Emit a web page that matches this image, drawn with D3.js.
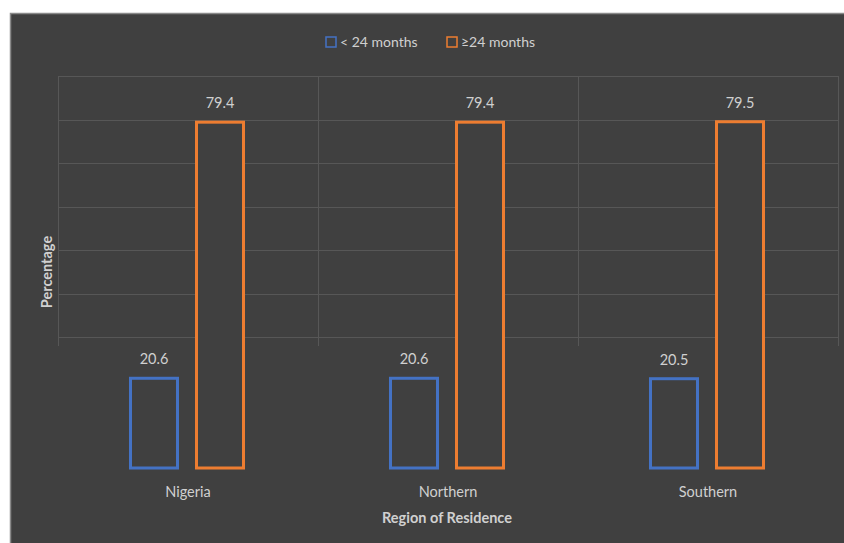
<!DOCTYPE html>
<html>
<head>
<meta charset="utf-8">
<script src="https://cdn.jsdelivr.net/npm/d3@7"></script>
<style>
body{margin:0;background:#fff}
text{font-family:Lato,"Open Sans",sans-serif}
</style>
</head>
<body>
<svg></svg>
<script>
var regions = ["Nigeria", "Northern", "Southern"]
var seriesNames = ["< 24 months", "\u226524 months"]
var under24 = [20.6, 20.6, 20.5]
var over24 = [79.4, 79.4, 79.5]
var gridTicks = [30, 40, 50, 60, 70, 80, 90]

var screen = {width:844, height:543}
var colors = ["#4472c4", "#ed7d31"]
var textColor = "#d0d0d0"

var svg = d3.select("svg")
    .attr("width", screen.width)
    .attr("height", screen.height)

// chart area
svg.append("rect")
    .attr("x", 10).attr("y", 13)
    .attr("width", screen.width - 10).attr("height", screen.height - 13)
    .attr("fill", "#404040")
svg.append("path")
    .attr("d", "M10.5," + screen.height + "V13.5H" + screen.width)
    .attr("fill", "none").attr("stroke", "#8a8a8a").attr("stroke-width", 1.5)

var yScale = d3.scaleLinear().domain([0, 90]).range([468, 76])
var xScale = d3.scaleBand().domain(regions).range([58, 838]).padding(0)
var subScale = d3.scaleBand().domain(seriesNames).range([71, 187]).paddingInner(0.2424)

// gridlines (only the upper part is visible in the original)
svg.append("g")
    .selectAll("line")
    .data(gridTicks)
    .enter()
    .append("line")
    .attr("x1", 58).attr("x2", 838)
    .attr("y1", function(d){return Math.round(yScale(d)) + 0.5})
    .attr("y2", function(d){return Math.round(yScale(d)) + 0.5})
    .attr("stroke", "#575757")

var vlines = xScale.domain().map(function(d){return xScale(d)}).concat([838])
svg.append("g")
    .selectAll("line")
    .data(vlines)
    .enter()
    .append("line")
    .attr("x1", function(d){return d + 0.5})
    .attr("x2", function(d){return d + 0.5})
    .attr("y1", yScale(90)).attr("y2", yScale(28))
    .attr("stroke", "#575757")

var rows = regions.map(function(r, i){
    return [
        {region:r, s:0, value:under24[i]},
        {region:r, s:1, value:over24[i]}
    ]
})
var points = d3.merge(rows)

svg.append("g")
    .selectAll("rect")
    .data(points)
    .enter()
    .append("rect")
    .attr("x", function(d){return xScale(d.region) + subScale(seriesNames[d.s]) + 1.5})
    .attr("y", function(d){return yScale(d.value)})
    .attr("width", subScale.bandwidth() - 3)
    .attr("height", function(d){return yScale(0) - yScale(d.value)})
    .attr("fill", "#404040")
    .attr("stroke", function(d){return colors[d.s]})
    .attr("stroke-width", 3)

svg.append("g")
    .selectAll("text")
    .data(points)
    .enter()
    .append("text")
    .attr("x", function(d){return xScale(d.region) + subScale(seriesNames[d.s]) + subScale.bandwidth()/2})
    .attr("y", function(d){return yScale(d.value) - 14})
    .attr("text-anchor", "middle")
    .attr("font-size", 14.5)
    .attr("fill", textColor)
    .text(function(d){return d.value.toFixed(1)})

// category labels
svg.append("g")
    .selectAll("text")
    .data(regions)
    .enter()
    .append("text")
    .attr("x", function(d){return xScale(d) + xScale.bandwidth()/2})
    .attr("y", 497)
    .attr("text-anchor", "middle")
    .attr("font-size", 14.5)
    .attr("fill", textColor)
    .text(function(d){return d})

svg.append("text")
    .attr("x", 447).attr("y", 523)
    .attr("text-anchor", "middle")
    .attr("font-size", 14.5)
    .attr("font-weight", "bold")
    .attr("fill", textColor)
    .text("Region of Residence")

svg.append("text")
    .attr("transform", "translate(52,272) rotate(-90)")
    .attr("text-anchor", "middle")
    .attr("font-size", 14.5)
    .attr("font-weight", "bold")
    .attr("fill", textColor)
    .text("Percentage")

// legend
var legendX = [326, 447]
var legend = svg.append("g")
    .selectAll("g")
    .data(seriesNames)
    .enter()
    .append("g")
    .attr("transform", function(d, i){return "translate(" + legendX[i] + ",42)"})
legend.append("rect")
    .attr("x", 0).attr("y", -5)
    .attr("width", 10).attr("height", 10)
    .attr("fill", "#404040")
    .attr("stroke", function(d, i){return colors[i]})
    .attr("stroke-width", 1.5)
legend.append("text")
    .attr("x", 14).attr("y", 5)
    .attr("font-size", 14)
    .attr("fill", textColor)
    .text(function(d){return d})
</script>
</body>
</html>
